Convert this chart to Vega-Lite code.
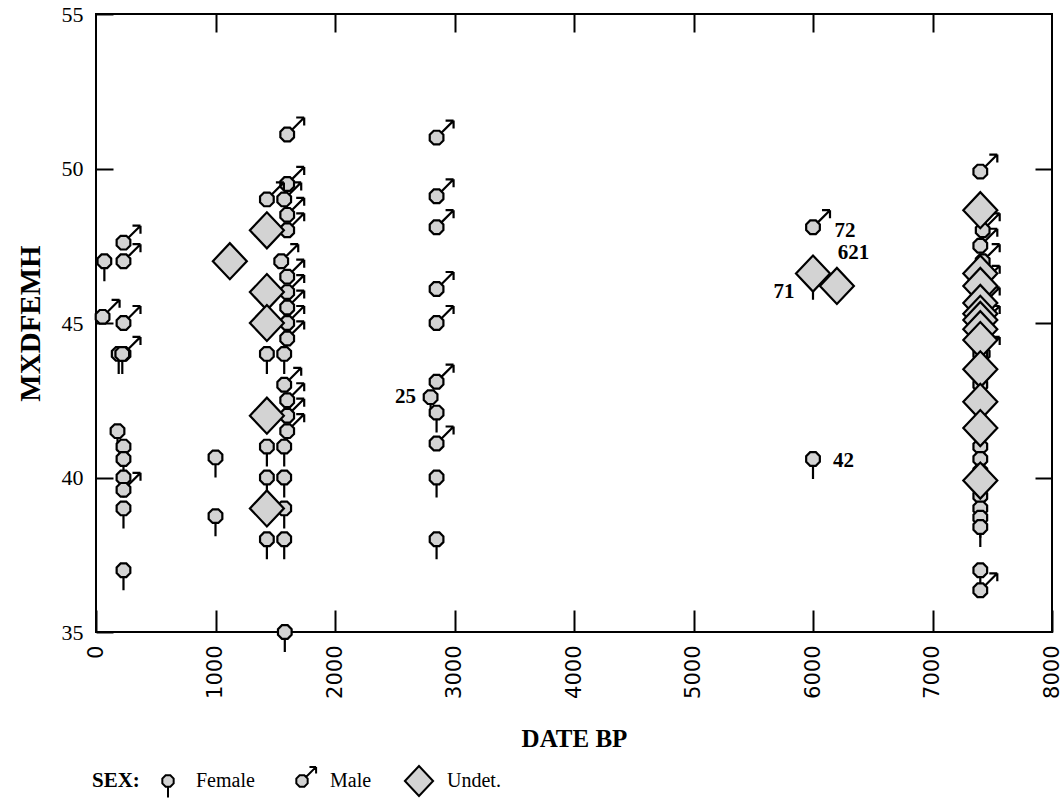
{
  "$schema": "https://vega.github.io/schema/vega-lite/v6.json",
  "width": 956,
  "height": 618,
  "autosize": {"type": "none"},
  "padding": {"left": 96, "top": 14, "right": 10, "bottom": 167},
  "background": "white",
  "config": {
    "view": {"stroke": "black", "strokeWidth": 2},
    "axis": {"grid": false, "domain": false, "tickColor": "black", "tickWidth": 2, "labelFlush": false, "labelOverlap": false}
  },
  "datasets": {
    "points": [
      {"date": 70, "mxdfemh": 47.0, "sex": "Female"},
      {"date": 230, "mxdfemh": 47.6, "sex": "Male"},
      {"date": 230, "mxdfemh": 47.0, "sex": "Male"},
      {"date": 55, "mxdfemh": 45.2, "sex": "Male"},
      {"date": 230, "mxdfemh": 45.0, "sex": "Male"},
      {"date": 190, "mxdfemh": 44.0, "sex": "Female"},
      {"date": 230, "mxdfemh": 44.0, "sex": "Male"},
      {"date": 220, "mxdfemh": 44.0, "sex": "Female"},
      {"date": 180, "mxdfemh": 41.5, "sex": "Female"},
      {"date": 230, "mxdfemh": 41.0, "sex": "Female"},
      {"date": 230, "mxdfemh": 40.6, "sex": "Female"},
      {"date": 230, "mxdfemh": 40.0, "sex": "Female"},
      {"date": 230, "mxdfemh": 39.6, "sex": "Male"},
      {"date": 230, "mxdfemh": 39.0, "sex": "Female"},
      {"date": 230, "mxdfemh": 37.0, "sex": "Female"},
      {"date": 1000, "mxdfemh": 40.65, "sex": "Female"},
      {"date": 1000, "mxdfemh": 38.75, "sex": "Female"},
      {"date": 1600, "mxdfemh": 49.5, "sex": "Male"},
      {"date": 1600, "mxdfemh": 48.5, "sex": "Male"},
      {"date": 1600, "mxdfemh": 48.0, "sex": "Male"},
      {"date": 1600, "mxdfemh": 46.5, "sex": "Male"},
      {"date": 1600, "mxdfemh": 46.0, "sex": "Male"},
      {"date": 1600, "mxdfemh": 45.5, "sex": "Male"},
      {"date": 1600, "mxdfemh": 45.0, "sex": "Male"},
      {"date": 1600, "mxdfemh": 44.5, "sex": "Male"},
      {"date": 1600, "mxdfemh": 42.5, "sex": "Male"},
      {"date": 1600, "mxdfemh": 42.0, "sex": "Male"},
      {"date": 1600, "mxdfemh": 41.5, "sex": "Male"},
      {"date": 1600, "mxdfemh": 51.1, "sex": "Male"},
      {"date": 1430, "mxdfemh": 49.0, "sex": "Male"},
      {"date": 1575, "mxdfemh": 49.0, "sex": "Male"},
      {"date": 1550, "mxdfemh": 47.0, "sex": "Male"},
      {"date": 1575, "mxdfemh": 43.0, "sex": "Male"},
      {"date": 1430, "mxdfemh": 44.0, "sex": "Female"},
      {"date": 1575, "mxdfemh": 44.0, "sex": "Female"},
      {"date": 1430, "mxdfemh": 41.0, "sex": "Female"},
      {"date": 1575, "mxdfemh": 41.0, "sex": "Female"},
      {"date": 1430, "mxdfemh": 40.0, "sex": "Female"},
      {"date": 1575, "mxdfemh": 40.0, "sex": "Female"},
      {"date": 1575, "mxdfemh": 39.0, "sex": "Female"},
      {"date": 1430, "mxdfemh": 38.0, "sex": "Female"},
      {"date": 1575, "mxdfemh": 38.0, "sex": "Female"},
      {"date": 1580, "mxdfemh": 35.0, "sex": "Female"},
      {"date": 2850, "mxdfemh": 51.0, "sex": "Male"},
      {"date": 2850, "mxdfemh": 49.1, "sex": "Male"},
      {"date": 2850, "mxdfemh": 48.1, "sex": "Male"},
      {"date": 2850, "mxdfemh": 46.1, "sex": "Male"},
      {"date": 2850, "mxdfemh": 45.0, "sex": "Male"},
      {"date": 2850, "mxdfemh": 43.1, "sex": "Male"},
      {"date": 2800, "mxdfemh": 42.6, "sex": "Female"},
      {"date": 2850, "mxdfemh": 42.1, "sex": "Female"},
      {"date": 2850, "mxdfemh": 41.1, "sex": "Male"},
      {"date": 2850, "mxdfemh": 40.0, "sex": "Female"},
      {"date": 2850, "mxdfemh": 38.0, "sex": "Female"},
      {"date": 6000, "mxdfemh": 48.1, "sex": "Male"},
      {"date": 6000, "mxdfemh": 46.4, "sex": "Female"},
      {"date": 6000, "mxdfemh": 40.6, "sex": "Female"},
      {"date": 7420, "mxdfemh": 48.0, "sex": "Male"},
      {"date": 7420, "mxdfemh": 47.0, "sex": "Male"},
      {"date": 7420, "mxdfemh": 46.3, "sex": "Male"},
      {"date": 7420, "mxdfemh": 45.6, "sex": "Male"},
      {"date": 7420, "mxdfemh": 45.0, "sex": "Male"},
      {"date": 7420, "mxdfemh": 44.0, "sex": "Male"},
      {"date": 7400, "mxdfemh": 49.9, "sex": "Male"},
      {"date": 7400, "mxdfemh": 47.5, "sex": "Male"},
      {"date": 7400, "mxdfemh": 44.0, "sex": "Female"},
      {"date": 7400, "mxdfemh": 43.0, "sex": "Female"},
      {"date": 7400, "mxdfemh": 41.0, "sex": "Female"},
      {"date": 7400, "mxdfemh": 40.6, "sex": "Female"},
      {"date": 7400, "mxdfemh": 40.2, "sex": "Female"},
      {"date": 7400, "mxdfemh": 39.4, "sex": "Female"},
      {"date": 7400, "mxdfemh": 39.0, "sex": "Female"},
      {"date": 7400, "mxdfemh": 38.7, "sex": "Female"},
      {"date": 7400, "mxdfemh": 38.4, "sex": "Female"},
      {"date": 7400, "mxdfemh": 37.0, "sex": "Female"},
      {"date": 7400, "mxdfemh": 36.35, "sex": "Male"},
      {"date": 1120, "mxdfemh": 47.0, "sex": "Undet."},
      {"date": 1430, "mxdfemh": 48.0, "sex": "Undet."},
      {"date": 1430, "mxdfemh": 46.0, "sex": "Undet."},
      {"date": 1430, "mxdfemh": 45.0, "sex": "Undet."},
      {"date": 1430, "mxdfemh": 42.0, "sex": "Undet."},
      {"date": 1430, "mxdfemh": 39.0, "sex": "Undet."},
      {"date": 6000, "mxdfemh": 46.6, "sex": "Undet."},
      {"date": 6200, "mxdfemh": 46.2, "sex": "Undet."},
      {"date": 7400, "mxdfemh": 48.65, "sex": "Undet."},
      {"date": 7400, "mxdfemh": 46.6, "sex": "Undet."},
      {"date": 7400, "mxdfemh": 46.2, "sex": "Undet."},
      {"date": 7400, "mxdfemh": 45.65, "sex": "Undet."},
      {"date": 7400, "mxdfemh": 45.3, "sex": "Undet."},
      {"date": 7400, "mxdfemh": 45.1, "sex": "Undet."},
      {"date": 7400, "mxdfemh": 44.8, "sex": "Undet."},
      {"date": 7400, "mxdfemh": 44.45, "sex": "Undet."},
      {"date": 7400, "mxdfemh": 43.5, "sex": "Undet."},
      {"date": 7400, "mxdfemh": 42.45, "sex": "Undet."},
      {"date": 7400, "mxdfemh": 41.6, "sex": "Undet."},
      {"date": 7400, "mxdfemh": 39.9, "sex": "Undet."}
    ],
    "labels": [
      {"date": 6268, "mxdfemh": 47.98, "label": "72"},
      {"date": 6339, "mxdfemh": 47.25, "label": "621"},
      {"date": 5757, "mxdfemh": 45.99, "label": "71"},
      {"date": 6255, "mxdfemh": 40.52, "label": "42"},
      {"date": 2590, "mxdfemh": 42.62, "label": "25"}
    ]
  },
  "layer": [
    {
      "data": {"name": "points"},
      "mark": {"type": "point", "filled": true, "fill": "#d3d3d3", "strokeWidth": 2.2, "size": 1600, "opacity": 1},
      "encoding": {
        "x": {
          "field": "date", "type": "quantitative",
          "scale": {"domain": [0, 8000], "nice": false, "zero": false},
          "axis": {
            "orient": "bottom", "values": [0, 1000, 2000, 3000, 4000, 5000, 6000, 7000, 8000], "format": "d",
            "tickSize": -22, "labelAngle": -90, "labelFont": "DejaVu Sans", "labelFontSize": 21,
            "labelColor": "black", "labelPadding": 35,
            "title": "DATE BP", "titleFont": "Liberation Serif", "titleFontSize": 25, "titleFontWeight": "bold",
            "titleColor": "black", "titlePadding": 28
          }
        },
        "y": {
          "field": "mxdfemh", "type": "quantitative",
          "scale": {"domain": [35, 55], "nice": false, "zero": false},
          "axis": {
            "orient": "left", "values": [35, 40, 45, 50, 55], "format": "d",
            "tickSize": -17, "labelFont": "Liberation Serif", "labelFontSize": 22, "labelColor": "black",
            "labelPadding": 30,
            "title": "MXDFEMH", "titleFont": "Liberation Serif", "titleFontSize": 29, "titleFontWeight": "bold",
            "titleColor": "black", "titlePadding": 16
          }
        },
        "stroke": {
          "field": "sex", "type": "nominal",
          "scale": {"domain": ["Female", "Male", "Undet."], "range": ["black", "black", "black"]}
        },
        "shape": {
          "field": "sex", "type": "nominal",
          "scale": {
            "domain": ["Female", "Male", "Undet."],
            "range": [
              "M0.342,0.142L0.142,0.342L-0.142,0.342L-0.342,0.142L-0.342,-0.142L-0.142,-0.342L0.142,-0.342L0.342,-0.142ZM0,0.342L0,1",
              "M0.342,0.142L0.142,0.342L-0.142,0.342L-0.342,0.142L-0.342,-0.142L-0.142,-0.342L0.142,-0.342L0.342,-0.142ZM0.242,-0.242L0.85,-0.85M0.45,-0.85L0.85,-0.85M0.85,-0.85L0.85,-0.45",
              "M-0.85,0L0,-0.9L0.85,0L0,0.9Z"
            ]
          },
          "legend": {
            "orient": "none", "legendX": -4, "legendY": 750, "direction": "horizontal",
            "title": "SEX:", "titleOrient": "left", "titleFont": "Liberation Serif", "titleFontSize": 21,
            "titleFontWeight": "bold", "titleColor": "black", "titlePadding": 10,
            "labelFont": "Liberation Serif", "labelFontSize": 20, "labelColor": "black", "labelOffset": 10,
            "symbolSize": 1100, "symbolFillColor": "#d3d3d3", "symbolStrokeColor": "black", "symbolStrokeWidth": 2,
            "columnPadding": 29, "clipHeight": 34
          }
        }
      }
    },
    {
      "data": {"name": "labels"},
      "mark": {"type": "text", "font": "Liberation Serif", "fontSize": 21, "fontWeight": "bold", "align": "center", "baseline": "middle", "color": "black"},
      "encoding": {
        "x": {
          "field": "date", "type": "quantitative",
          "axis": {"orient": "top", "values": [1000, 2000, 3000, 4000, 5000, 6000, 7000], "labels": false, "title": null, "tickSize": -18}
        },
        "y": {
          "field": "mxdfemh", "type": "quantitative",
          "axis": {"orient": "right", "values": [40, 45, 50], "labels": false, "title": null, "tickSize": -17}
        },
        "text": {"field": "label", "type": "nominal"}
      }
    }
  ],
  "resolve": {"axis": {"x": "independent", "y": "independent"}}
}
